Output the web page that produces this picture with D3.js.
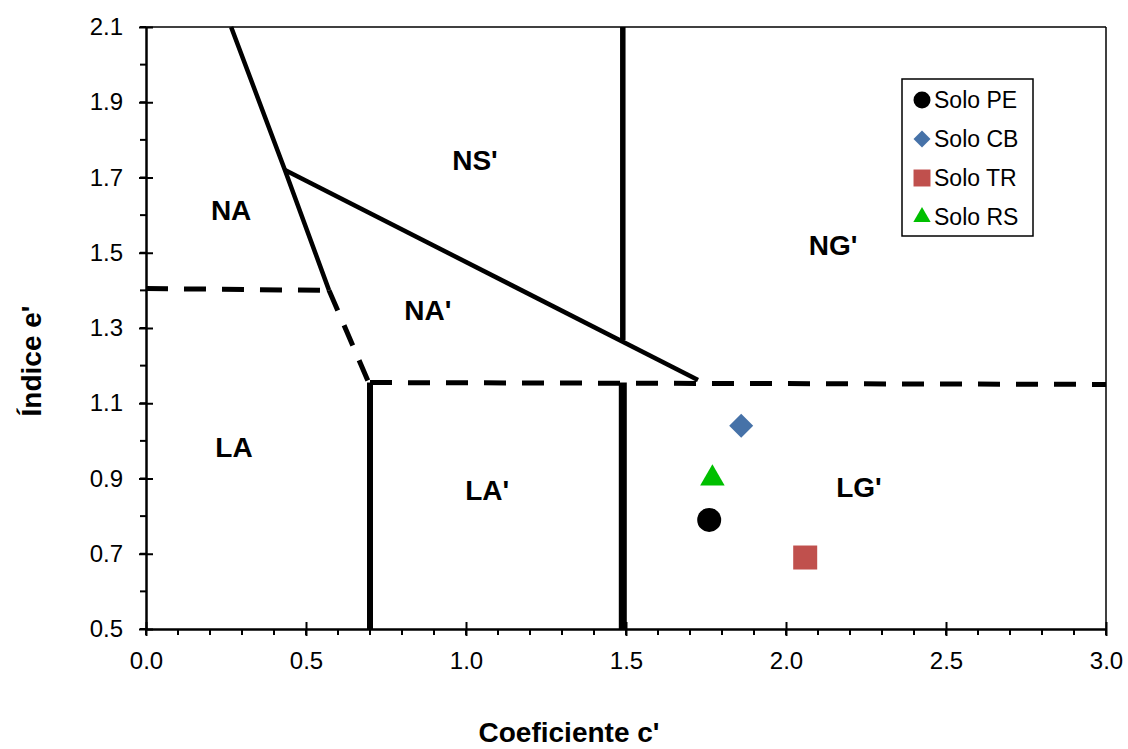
<!DOCTYPE html>
<html>
<head>
<meta charset="utf-8">
<script src="https://cdn.jsdelivr.net/npm/d3@7"></script>
<style>
  body { margin: 0; background: #fff; }
  svg { font-family: Arial, "Liberation Sans", sans-serif; }
  .tick text { font-size: 24px; fill: #000; }
</style>
</head>
<body>
<svg id="chart" width="1128" height="749"></svg>
<script>
// pontos dos solos
const soloNomes = ["Solo PE", "Solo CB", "Solo TR", "Solo RS"];
const soloC = [1.76, 1.86, 2.06, 1.77];
const soloE = [0.79, 1.04, 0.69, 0.90];

// linhas de classificacao (c', e')
const linhaSuperior = [[0.266, 2.1], [0.434, 1.72], [0.572, 1.40]];
const linhaDiagonal = [[0.434, 1.72], [1.725, 1.162]];
const linhaTracoNA = [[0.0, 1.405], [0.572, 1.40]];
const linhaTracoDiag = [[0.572, 1.40], [0.697, 1.153]];
const linhaTracoL = [[0.70, 1.155], [3.0, 1.15]];
const vertNS = [[1.49, 2.1], [1.49, 1.268]];
const vertLA = [[0.70, 1.155], [0.70, 0.5]];
const vertLG = [[1.49, 1.155], [1.49, 0.5]];

// rotulos das regioes
const regiaoNomes = ["NA", "NS'", "NA'", "NG'", "LA", "LA'", "LG'"];
const regiaoC = [0.266, 1.028, 0.881, 2.147, 0.275, 1.066, 2.228];
const regiaoE = [1.614, 1.747, 1.348, 1.52, 0.984, 0.869, 0.877];

const xTicks = [0.0, 0.5, 1.0, 1.5, 2.0, 2.5, 3.0];
const yTicks = [0.5, 0.7, 0.9, 1.1, 1.3, 1.5, 1.7, 1.9, 2.1];

const svg = d3.select("#chart");
const margin = { top: 27, right: 22, bottom: 120, left: 146 };
const width = +svg.attr("width");
const height = +svg.attr("height");
const innerWidth = width - margin.left - margin.right;
const innerHeight = height - margin.top - margin.bottom;

const xScale = d3.scaleLinear().domain([0, 3]).range([0, innerWidth]);
const yScale = d3.scaleLinear().domain([0.5, 2.1]).range([innerHeight, 0]);

const g = svg.append("g")
  .attr("transform", `translate(${margin.left},${margin.top})`);

// moldura fina (topo e direita)
g.append("line").attr("x1", 0).attr("x2", innerWidth).attr("y1", 0).attr("y2", 0)
  .attr("stroke", "#000").attr("stroke-width", 1.5);
g.append("line").attr("x1", innerWidth).attr("x2", innerWidth).attr("y1", 0).attr("y2", innerHeight)
  .attr("stroke", "#000").attr("stroke-width", 1.5);

// ticks menores
const xMinor = d3.range(0, 3.0001, 0.1);
const yMinor = d3.range(0.5, 2.1001, 0.1);
g.append("g").selectAll("line").data(xMinor).enter().append("line")
  .attr("x1", d => xScale(d)).attr("x2", d => xScale(d))
  .attr("y1", innerHeight).attr("y2", innerHeight + 6)
  .attr("stroke", "#000").attr("stroke-width", 2);
g.append("g").selectAll("line").data(yMinor).enter().append("line")
  .attr("x1", -6).attr("x2", 0)
  .attr("y1", d => yScale(d)).attr("y2", d => yScale(d))
  .attr("stroke", "#000").attr("stroke-width", 2);

const xAxis = d3.axisBottom(xScale).tickValues(xTicks).tickFormat(d3.format(".1f"))
  .tickSizeInner(7).tickSizeOuter(0).tickPadding(16);
const xAxisG = g.append("g").attr("transform", `translate(0,${innerHeight})`).call(xAxis);
xAxisG.select(".domain").attr("stroke-width", 2.5);
xAxisG.selectAll(".tick line").attr("y1", -7).attr("stroke-width", 2);

const yAxis = d3.axisLeft(yScale).tickValues(yTicks).tickFormat(d3.format(".1f"))
  .tickSizeInner(7).tickSizeOuter(0).tickPadding(16);
const yAxisG = g.append("g").call(yAxis);
yAxisG.select(".domain").attr("stroke-width", 2.5);
yAxisG.selectAll(".tick line").attr("x1", 7).attr("stroke-width", 2);

// linhas de fronteira
const line = d3.line().x(d => xScale(d[0])).y(d => yScale(d[1]));
function drawLine(pts, w, dashed) {
  g.append("path").datum(pts).attr("d", line)
    .attr("fill", "none").attr("stroke", "#000").attr("stroke-width", w)
    .attr("stroke-dasharray", dashed ? "22,16" : null)
    .attr("stroke-linejoin", "miter");
}
drawLine(linhaSuperior, 4.5, false);
drawLine(linhaDiagonal, 4.5, false);
drawLine(linhaTracoNA, 5, true);
drawLine(linhaTracoDiag, 5, true);
drawLine(linhaTracoL, 5, true);
drawLine(vertNS, 5.5, false);
drawLine(vertLA, 6, false);
drawLine(vertLG, 8, false);

// rotulos das regioes
g.append("g").selectAll("text").data(regiaoNomes).enter().append("text")
  .attr("x", (d, i) => xScale(regiaoC[i]))
  .attr("y", (d, i) => yScale(regiaoE[i]))
  .attr("text-anchor", "middle").attr("dy", "0.35em")
  .attr("font-size", 28).attr("font-weight", "bold")
  .text(d => d);

// simbolos
const cores = ["#000000", "#4672a8", "#c0504d", "#00bf00"];
const simbolos = [d3.symbolCircle, d3.symbolSquare, d3.symbolSquare, d3.symbolTriangle];
const rot = [0, 45, 0, 0];
const tamanhos = [452, 288, 576, 260];

g.append("g").selectAll("path").data(soloNomes).enter().append("path")
  .attr("d", (d, i) => d3.symbol().type(simbolos[i]).size(tamanhos[i])())
  .attr("transform", (d, i) => `translate(${xScale(soloC[i])},${yScale(soloE[i])}) rotate(${rot[i]})`)
  .attr("fill", (d, i) => cores[i]);

// legenda
const leg = svg.append("g").attr("transform", "translate(902,79)");
leg.append("rect").attr("width", 131).attr("height", 157)
  .attr("fill", "#fff").attr("stroke", "#000").attr("stroke-width", 1.5);
const legItem = leg.selectAll("g").data(soloNomes).enter().append("g")
  .attr("transform", (d, i) => `translate(20,${21 + i * 39})`);
legItem.append("path")
  .attr("d", (d, i) => d3.symbol().type(simbolos[i]).size(tamanhos[i] * 0.5)())
  .attr("transform", (d, i) => `rotate(${rot[i]})`)
  .attr("fill", (d, i) => cores[i]);
legItem.append("text").attr("x", 12).attr("dy", "0.35em")
  .attr("font-size", 23).text(d => d);

// titulos dos eixos
svg.append("text").attr("x", 569).attr("y", 742)
  .attr("text-anchor", "middle").attr("font-size", 28).attr("font-weight", "bold")
  .text("Coeficiente c'");
svg.append("text").attr("transform", "translate(41,361) rotate(-90)")
  .attr("text-anchor", "middle").attr("font-size", 28).attr("font-weight", "bold")
  .text("Índice e'");
</script>
</body>
</html>
